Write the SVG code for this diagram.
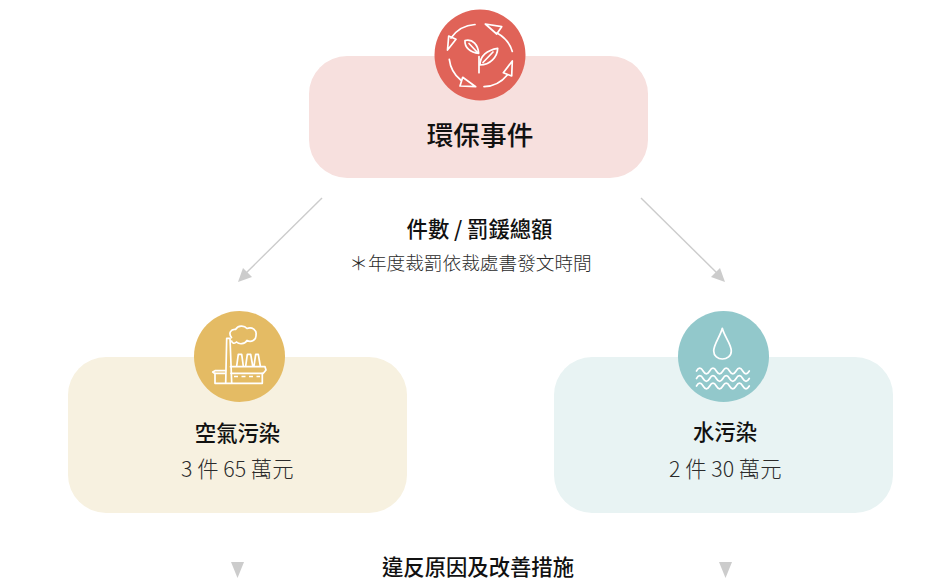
<svg xmlns="http://www.w3.org/2000/svg" width="945" height="583" viewBox="0 0 945 583">
<style>
text{font-family:"Noto Sans CJK TC","Noto Sans",sans-serif;text-anchor:middle;fill:#111}
.b{font-weight:500;font-size:21.33px}
.r{font-weight:300;font-size:18.67px;fill:#2b2b2b}
.v{font-weight:300;font-size:21.33px;fill:#2b2b2b}
.ic{fill:none;stroke:#fff;stroke-width:1.7;stroke-linejoin:round;stroke-linecap:round}
.conn{stroke:#ccc;stroke-width:1.4;fill:none}
.head{fill:#ccc}
</style>
<rect width="945" height="583" fill="#fff"/>
<g id="connectors">
<line class="conn" x1="322" y1="198" x2="244" y2="275"/>
<polygon class="head" points="238,282 243,268 252,277"/>
<line class="conn" x1="641" y1="198" x2="719" y2="275"/>
<polygon class="head" points="725,282 711,277 720,268"/>
<polygon class="head" points="231,562 244,562 237.500,578"/>
<polygon class="head" points="719,562 732,562 725.500,578"/>
</g>
<g id="node-main">
<rect x="309" y="56" width="339" height="122" rx="38" fill="#f7e0de"/>
<circle cx="480" cy="55" r="45.500" fill="#e06358"/>
<g class="ic">
<path d="M475 24.500A31.500 31.500 0 0 0 451 38"/>
<path d="M447.500 50L448.700 36L456 39.300Z"/>
<path d="M497 33A31.500 31.500 0 0 1 512.300 51.500"/>
<path d="M485.300 24L501.700 26.700L496.700 34Z"/>
<path d="M484 86.700A31.500 31.500 0 0 0 507.300 75"/>
<path d="M512.300 61L511.700 76L503.300 72.700Z"/>
<path d="M449.300 59.300A31.500 31.500 0 0 0 460.700 80"/>
<path d="M475.700 86.700L460 86L462.700 77.300Z"/>
<path d="M479 72.700V56.500"/>
<path d="M478.700 53.300C478 45 473 38.500 465 40.500C464.500 47 470 53 478.700 53.300ZM469 43.500L477 52"/>
<path d="M480 65C480 56 487 50 497.700 48.300C497.500 57 490 65 480 65ZM483 62.500L493 52"/>
</g>
<text x="480" y="145" style="font-size:26.67px;font-weight:500">環保事件</text>
</g>
<g id="label-count">
<text class="b" x="479.500" y="236.500">件數 / 罰鍰總額</text>
<text class="r" x="470.500" y="269.500">＊年度裁罰依裁處書發文時間</text>
</g>
<g id="node-air">
<rect x="68" y="357" width="339" height="156" rx="38" fill="#f7f1e0"/>
<circle cx="239.500" cy="356.500" r="45.500" fill="#e4bb64"/>
<g class="ic">
<path d="M225.700 382.700L226.700 338.300H230L231.700 382.700"/>
<path d="M231.500 337.500C228 333 231 329 235.500 329.500C238 325.500 244 325 247 328.500C252 326.500 257 330 256 335C256.500 340 251 343 247 340.500C244.500 344.500 239 344.500 236.500 342C234.500 344 232 343.500 231.700 341"/>
<path d="M230.500 366.700H265L266 370L263.300 373.300H231"/>
<path d="M262.300 373.300V383.300H215V373.300"/>
<path d="M225 373.300H214.500L212.700 372L215 370.700H225.500"/>
<path d="M236.700 366L238.300 354.300H241.700L243.300 366M245.700 366L247.300 354.300H250.700L252.700 366M254 366L255.700 354.300H258.300L260.300 366"/>
<path d="M234 376.500H260" stroke-dasharray="4 3.500" stroke-linecap="butt"/>
</g>
<text class="b" x="237.500" y="441">空氣污染</text>
<text class="v" x="237.300" y="477">3 件 65 萬元</text>
</g>
<g id="node-water">
<rect x="554" y="357" width="339" height="156" rx="38" fill="#e8f3f3"/>
<circle cx="723.500" cy="356.500" r="45.500" fill="#92c8cb"/>
<g class="ic">
<path d="M722.300 328.300C720 337 713.700 344 713.700 351C713.700 356 718 359 722.300 359C727 359 731.300 356 731.300 351C731.300 344 724.500 337 722.300 328.300Z"/>
<path d="M696.500 371q3.300 -5.600 6.600 0t6.600 0t6.600 0t6.600 0t6.600 0t6.600 0t6.600 0t6.600 0"/>
<path d="M696.500 378.500q3.300 -5.600 6.600 0t6.600 0t6.600 0t6.600 0t6.600 0t6.600 0t6.600 0t6.600 0"/>
<path d="M696.500 386q3.300 -5.600 6.600 0t6.600 0t6.600 0t6.600 0t6.600 0t6.600 0t6.600 0t6.600 0"/>
</g>
<text class="b" x="725" y="440">水污染</text>
<text class="v" x="725.300" y="477">2 件 30 萬元</text>
</g>
<g id="label-actions">
<text class="b" x="478" y="574.500">違反原因及改善措施</text>
</g>
</svg>
